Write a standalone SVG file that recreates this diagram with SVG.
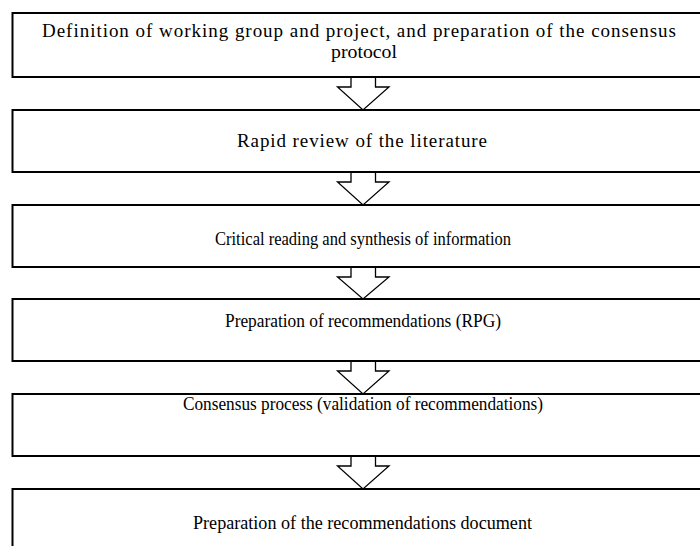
<svg xmlns="http://www.w3.org/2000/svg" width="700" height="546" viewBox="0 0 700 546">
<style>
.box{fill:#fff;stroke:#000;stroke-width:2}
.arr{fill:#fff;stroke:#000;stroke-width:1.3;stroke-linejoin:miter}
text{font-family:"Liberation Serif","Times New Roman",serif;font-size:19px;fill:#000;text-anchor:middle}
</style>
<rect width="700" height="546" fill="#fff"/>
<g id="connectors">
<path class="arr" d="M351,77 V87 H337.5 L363,110 L389,87 H375.5 V77"/>
<path class="arr" d="M351,172 V182 H337.5 L363,205 L389,182 H375.5 V172"/>
<path class="arr" d="M351,267 V277 H337.5 L363,299 L389,277 H375.5 V267"/>
<path class="arr" d="M351,361 V371 H337.5 L363,394 L389,371 H375.5 V361"/>
<path class="arr" d="M351,456 V466 H337.5 L363,489 L389,466 H375.5 V456"/>
</g>
<g id="n1"><rect class="box" x="12.5" y="13" width="702" height="64"/>
<text x="359" y="37" textLength="634" lengthAdjust="spacing">Definition of working group and project, and preparation of the consensus</text>
<text x="364" y="58" textLength="66" lengthAdjust="spacingAndGlyphs">protocol</text></g>
<g id="n2"><rect class="box" x="12.5" y="110" width="702" height="62"/>
<text x="362" y="147" textLength="250" lengthAdjust="spacing">Rapid review of the literature</text></g>
<g id="n3"><rect class="box" x="12.5" y="205" width="702" height="62"/>
<text x="363" y="245" textLength="296" lengthAdjust="spacingAndGlyphs">Critical reading and synthesis of information</text></g>
<g id="n4"><rect class="box" x="12.5" y="299" width="702" height="62"/>
<text x="363" y="327" textLength="276" lengthAdjust="spacingAndGlyphs">Preparation of recommendations (RPG)</text></g>
<g id="n5"><rect class="box" x="12.5" y="394" width="702" height="62"/>
<text x="363" y="410" textLength="360" lengthAdjust="spacingAndGlyphs">Consensus process (validation of recommendations)</text></g>
<g id="n6"><rect class="box" x="12.5" y="489" width="702" height="62"/>
<text x="362.5" y="529" textLength="339" lengthAdjust="spacingAndGlyphs">Preparation of the recommendations document</text></g>
</svg>
